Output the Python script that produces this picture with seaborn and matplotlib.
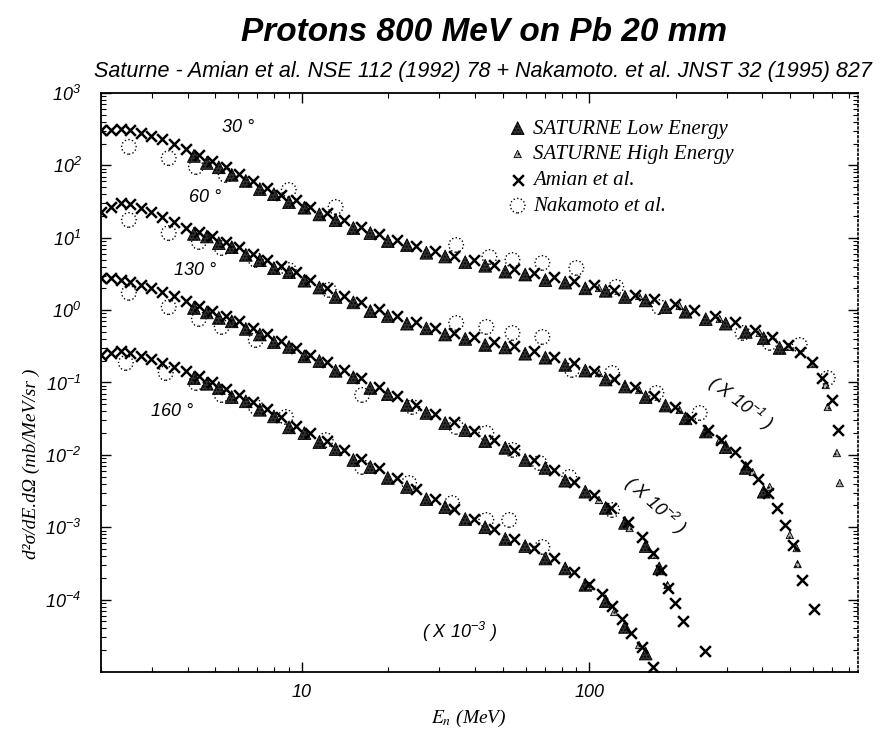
import numpy as np
import pandas as pd
import matplotlib
matplotlib.use("Agg")
import matplotlib.pyplot as plt
import seaborn as sns
from matplotlib.font_manager import FontProperties
from matplotlib.ticker import LogLocator, NullFormatter

sns.set_style("ticks")
plt.rcParams['font.family'] = ['Liberation Sans', 'DejaVu Sans']
plt.rcParams['text.color'] = 'black'
plt.rcParams['xtick.color'] = 'black'
plt.rcParams['ytick.color'] = 'black'
plt.rcParams['xtick.labelcolor'] = 'black'
plt.rcParams['ytick.labelcolor'] = 'black'
plt.rcParams['mathtext.fontset'] = 'custom'
plt.rcParams['mathtext.it'] = 'Liberation Sans:italic'
plt.rcParams['mathtext.rm'] = 'Liberation Sans:italic'
plt.rcParams['mathtext.default'] = 'it'

# ---------------- data (physical values, mb/MeV/sr) ----------------
angles = ["30", "60", "130", "160"]
scales = [1.0, 1e-1, 1e-2, 1e-3]

# Amian et al. (x)
amian30_E = [2.00, 2.16, 2.34, 2.53, 2.75, 2.98, 3.25, 3.58, 3.94, 4.38, 4.86, 5.43, 6.03, 6.74, 7.55, 8.45,
             9.53, 10.7, 12.2, 14.0, 16.1, 18.5, 21.4, 25.0, 29.0, 33.9, 39.7, 46.7, 54.8, 64.3, 75.5, 88.7,
             104, 122, 144, 168, 198, 232, 273, 320, 376, 431, 490, 539, 594, 643, 697, 731]
amian30_y = [308, 308, 318, 308, 280, 255, 231, 197, 168, 139, 115, 95, 76, 60.8, 48.7, 39.0,
             33.2, 26.6, 22.0, 17.6, 14.1, 11.3, 9.31, 7.69, 6.56, 5.60, 4.93, 4.21, 3.70, 3.26, 2.87, 2.52,
             2.22, 1.90, 1.62, 1.42, 1.22, 1.00, 0.83, 0.686, 0.531, 0.425, 0.330, 0.264, 0.192, 0.115, 0.057, 0.022]

amian60_E = [2.00, 2.16, 2.34, 2.53, 2.75, 2.98, 3.25, 3.58, 3.94, 4.38, 4.86, 5.43, 6.03, 6.74, 7.55, 8.45,
             9.53, 10.7, 12.2, 14.0, 16.1, 18.5, 21.4, 25.0, 29.0, 33.9, 39.7, 46.7, 54.8, 64.3, 75.5, 88.7,
             104, 122, 144, 168, 198, 226, 258, 288, 320, 352, 385, 417, 448, 478, 509, 548, 603]
amian60_y = [227, 266, 302, 292, 258, 227, 194, 165, 136, 120, 106, 87.3, 74.5, 59.6, 49.3, 40.7,
             33.7, 26.1, 20.2, 15.7, 12.9, 10.4, 8.30, 6.86, 5.66, 4.83, 4.25, 3.63, 3.19, 2.72, 2.25, 1.86,
             1.44, 1.12, 0.867, 0.650, 0.459, 0.323, 0.221, 0.160, 0.110, 0.0724, 0.0464, 0.0297, 0.0185,
             0.0107, 0.00569, 0.00187, 0.000742]

amian130_E = [2.00, 2.16, 2.34, 2.53, 2.75, 2.98, 3.25, 3.58, 3.94, 4.38, 4.86, 5.43, 6.03, 6.74, 7.55, 8.45,
              9.53, 10.7, 12.2, 14.0, 16.1, 18.5, 21.4, 25.0, 29.0, 33.9, 39.7, 46.7, 54.8, 64.3, 75.5, 88.7,
              104, 119, 136, 152, 167, 178, 187, 199, 211, 252]
amian130_y = [278, 278, 261, 245, 222, 202, 178, 157, 134, 114, 97.2, 83.0, 70.8, 56.6, 46.8, 37.4,
              30.0, 24.0, 19.2, 14.9, 11.5, 8.67, 6.50, 4.89, 3.67, 2.84, 2.14, 1.60, 1.17, 0.849, 0.618, 0.422,
              0.279, 0.185, 0.118, 0.0733, 0.0441, 0.0256, 0.0145, 0.00898, 0.00507, 0.00195]

amian160_E = [2.00, 2.16, 2.34, 2.53, 2.75, 2.98, 3.25, 3.58, 3.94, 4.38, 4.86, 5.43, 6.03, 6.74, 7.55, 8.45,
              9.53, 10.7, 12.2, 14.0, 16.1, 18.5, 21.4, 25.0, 29.0, 33.9, 39.7, 46.7, 54.8, 64.3, 75.5, 88.7,
              100, 111, 120, 130, 140, 153, 166]
amian160_y = [240, 256, 272, 256, 232, 211, 186, 164, 144, 123, 102, 81.3, 67.2, 53.8, 43.1, 33.4,
              25.1, 20.0, 15.6, 11.7, 8.77, 6.59, 4.79, 3.37, 2.45, 1.79, 1.30, 0.946, 0.689, 0.516, 0.376, 0.241,
              0.164, 0.120, 0.0817, 0.0540, 0.0346, 0.0221, 0.0117]

# SATURNE Low Energy (filled triangles)
le30_E = [4.21, 4.67, 5.14, 5.70, 6.38, 7.14, 7.99, 9.02, 10.2, 11.5, 13.1, 15.1, 17.3, 19.9, 23.2, 27.1, 31.5,
          37.0, 43.4, 51.0, 59.8, 70.3, 82.4, 96.8, 114, 133, 157, 184, 216, 254, 298, 350, 404, 459]
le30_y = [135, 108, 94, 74, 61, 47, 40, 31, 26, 21, 17.5, 13.6, 11.6, 9.0, 7.9, 6.2, 5.5,
          4.6, 4.1, 3.4, 3.1, 2.6, 2.4, 2.0, 1.85, 1.52, 1.36, 1.10, 0.95, 0.75, 0.65, 0.50, 0.41, 0.30]
le60_E = [4.21, 4.67, 5.14, 5.70, 6.38, 7.14, 7.99, 9.02, 10.2, 11.5, 13.1, 15.1, 17.3, 19.9, 23.2, 27.1, 31.5,
          37.0, 43.4, 51.0, 59.8, 70.3, 82.4, 96.8, 114, 133, 157, 184, 216, 254, 298, 350, 404]
le60_y = [113, 104, 84, 74, 58, 49, 38, 33.5, 25.5, 20.5, 15.2, 12.8, 9.7, 8.3, 6.5, 5.6, 4.6,
          4.0, 3.3, 3.05, 2.5, 2.2, 1.75, 1.46, 1.10, 0.88, 0.63, 0.48, 0.32, 0.21, 0.128, 0.066, 0.031]
le130_E = [4.21, 4.67, 5.14, 5.70, 6.38, 7.14, 7.99, 9.02, 10.2, 11.5, 13.1, 15.1, 17.3, 19.9, 23.2, 27.1, 31.5,
           37.0, 43.4, 51.0, 59.8, 70.3, 82.4, 96.8, 114, 133, 157, 175]
le130_y = [107, 93, 78, 70, 55, 46, 36, 31, 23, 19.8, 14.5, 11.8, 8.4, 6.9, 4.9, 3.8, 2.75,
           2.2, 1.55, 1.25, 0.85, 0.66, 0.44, 0.31, 0.185, 0.115, 0.055, 0.027]
le160_E = [4.21, 4.67, 5.14, 5.70, 6.38, 7.14, 7.99, 9.02, 10.2, 11.5, 13.1, 15.1, 17.3, 19.9, 23.2, 27.1, 31.5,
           37.0, 43.4, 51.0, 59.8, 70.3, 82.4, 96.8, 114, 133, 157]
le160_y = [115, 96, 84, 63, 55, 42, 34, 24, 20, 15, 12, 8.5, 6.8, 4.8, 3.6, 2.45, 1.9,
           1.30, 1.0, 0.69, 0.55, 0.37, 0.27, 0.16, 0.095, 0.042, 0.018]

# SATURNE High Energy (small triangles)
he30_E = [108, 149, 206, 284, 391, 495, 594, 664, 675, 726, 743]
he30_y = [2.02, 1.57, 1.14, 0.754, 0.483, 0.310, 0.180, 0.0923, 0.0459, 0.0106, 0.00408]
he60_E = [108, 149, 206, 284, 370, 424, 498, 526, 530]
he60_y = [1.35, 0.787, 0.417, 0.160, 0.0579, 0.0360, 0.00782, 0.00516, 0.00310]
he130_E = [108, 138, 168, 187]
he130_y = [0.238, 0.0976, 0.0414, 0.0159]
he160_E = [100, 122, 149]
he160_y = [0.154, 0.0675, 0.0236]

# Nakamoto et al. (dotted circles)
nak30_E = [2.50, 3.44, 4.28, 5.43, 9.0, 13.1, 34.4, 44.9, 54.0, 68.6, 90.1, 124, 175, 341, 424, 539, 675]
nak30_y = [180, 126, 95, 73.6, 45.7, 26.6, 7.94, 5.42, 4.93, 4.48, 3.82, 2.09, 1.10, 0.483, 0.352, 0.330, 0.115]
nak60_E = [2.50, 3.44, 4.38, 5.26, 6.91, 9.0, 12.4, 34.4, 43.8, 54.0, 68.6, 87.0, 120, 171, 242]
nak60_y = [176, 116, 87.3, 72.1, 49.3, 35.8, 19.0, 6.64, 5.85, 4.83, 4.25, 1.49, 1.35, 0.716, 0.379]
nak130_E = [2.50, 3.44, 4.38, 5.26, 6.91, 16.2, 24.2, 34.4, 43.8, 54.0, 67.0, 85.1, 120]
nak130_y = [173, 110, 75.4, 58.5, 38.6, 6.72, 4.59, 2.43, 2.00, 1.17, 0.773, 0.495, 0.173]
nak160_E = [2.44, 3.36, 4.28, 5.26, 6.91, 8.79, 12.1, 16.2, 23.6, 33.3, 43.8, 52.6, 68.6]
nak160_y = [186, 135, 98.5, 67.2, 45.9, 33.4, 16.0, 6.79, 4.08, 2.16, 1.26, 1.26, 0.533]

legend_labels = ["SATURNE Low Energy", "SATURNE High Energy", "Amian et al.", "Nakamoto et al."]
ytick_exps = [-4, -3, -2, -1, 0, 1, 2, 3]
xtick_vals = [10, 100]

# ---------------- assemble ----------------
series = {
    "amian": [(amian30_E, amian30_y), (amian60_E, amian60_y), (amian130_E, amian130_y), (amian160_E, amian160_y)],
    "le": [(le30_E, le30_y), (le60_E, le60_y), (le130_E, le130_y), (le160_E, le160_y)],
    "he": [(he30_E, he30_y), (he60_E, he60_y), (he130_E, he130_y), (he160_E, he160_y)],
    "nak": [(nak30_E, nak30_y), (nak60_E, nak60_y), (nak130_E, nak130_y), (nak160_E, nak160_y)],
}
rows = []
for src, lst in series.items():
    for ang, sc, (E, y) in zip(angles, scales, lst):
        for e, v in zip(E, y):
            rows.append({"src": src, "angle": ang, "E": e, "val": v * sc})
df = pd.DataFrame(rows)

# ---------------- figure ----------------
fig = plt.figure(figsize=(8.82, 7.32), dpi=100)
ax = fig.add_axes([0.1145, 0.0820, 0.8583, 0.7910])
ax.set_xscale('log')
ax.set_yscale('log')
ax.set_xlim(2.0, 860)
ax.set_ylim(1e-5, 1e3)

sns.scatterplot(data=df[df.src == "nak"], x="E", y="val", ax=ax, marker='o', s=110,
                color='none', edgecolor='black', linewidth=1.0, linestyle=':', legend=False, zorder=2)
h_nak = ax.collections[-1]
sns.scatterplot(data=df[df.src == "le"], x="E", y="val", ax=ax, marker='^', s=85,
                color='#333333', edgecolor='black', linewidth=0.6, hatch='.....', legend=False, zorder=3)
h_le = ax.collections[-1]
sns.scatterplot(data=df[df.src == "he"], x="E", y="val", ax=ax, marker='^', s=28,
                color='#b0b0b0', edgecolor='black', linewidth=0.6, hatch='....', legend=False, zorder=3)
h_he = ax.collections[-1]
sns.scatterplot(data=df[df.src == "amian"], x="E", y="val", ax=ax, marker='x', s=60,
                color='black', edgecolor='black', linewidth=1.8, legend=False, zorder=4)
h_am = ax.collections[-1]

# ticks
ax.set_yticks([10.0 ** k for k in ytick_exps])
ax.set_yticklabels([r'$10^{%d}$' % k for k in ytick_exps])
ax.yaxis.set_minor_locator(LogLocator(base=10, subs=np.arange(2, 10), numticks=20))
ax.yaxis.set_minor_formatter(NullFormatter())
ax.set_xticks(xtick_vals)
ax.set_xticklabels([str(v) for v in xtick_vals])
ax.xaxis.set_minor_locator(LogLocator(base=10, subs=np.arange(2, 10), numticks=20))
ax.xaxis.set_minor_formatter(NullFormatter())
ax.tick_params(which='both', direction='in', top=True, right=True, color='black')
ax.tick_params(which='major', length=7, width=1.0, labelsize=13, pad=9)
ax.tick_params(which='minor', length=3.5, width=0.8)
ax.tick_params(axis='y', which='major', pad=14)
for lab in ax.get_xticklabels() + ax.get_yticklabels():
    lab.set_fontstyle('italic')
for side in ['left', 'bottom', 'top']:
    ax.spines[side].set_linewidth(1.3)
    ax.spines[side].set_color('black')
ax.spines['right'].set_linestyle(':')
ax.spines['right'].set_linewidth(1.2)
ax.spines['right'].set_color('black')
ax.set_xlabel('')
ax.set_ylabel('')

# legend
leg = ax.legend(handles=[h_le, h_he, h_am, h_nak], labels=legend_labels, loc='upper left',
                bbox_to_anchor=(0.538, 0.955), frameon=False,
                prop=FontProperties(family='Liberation Serif', style='italic', size=15),
                handlelength=0.9, handletextpad=0.3, labelspacing=0.3, borderpad=0,
                borderaxespad=0, scatterpoints=1)

# annotations
afont = dict(fontsize=13, fontstyle='italic', transform=ax.transAxes, ha='center', va='center', color='black')
ax.text(0.181, 0.940, "30 °", **afont)
ax.text(0.137, 0.819, "60 °", **afont)
ax.text(0.124, 0.694, "130 °", **afont)
ax.text(0.094, 0.449, "160 °", **afont)
ax.text(0.844, 0.465, r"( X 10$^{-1}$ )", rotation=-37, **afont)
ax.text(0.732, 0.288, r"( X 10$^{-2}$ )", rotation=-42, **afont)
ax.text(0.474, 0.069, r"( X 10$^{-3}$ )", **afont)

# titles and axis labels
fig.text(0.549, 0.956, "Protons 800 MeV on Pb 20 mm", ha='center', va='center', color='black',
         fontsize=24, fontweight='bold', fontstyle='italic', family='Liberation Sans')
fig.text(0.548, 0.903, "Saturne - Amian et al. NSE 112 (1992) 78 + Nakamoto. et al. JNST 32 (1995) 827",
         ha='center', va='center', fontsize=15.5, fontstyle='italic', family='Liberation Sans', color='black')
fig.text(0.036, 0.366, "d²σ/dE.dΩ (mb/MeV/sr )", rotation=90, ha='center', va='center', color='black',
         fontsize=14, fontstyle='italic', family='Liberation Serif')
fig.text(0.532, 0.019, r"$E_n$ (MeV)", ha='center', va='center', fontsize=14, color='black',
         fontstyle='italic', family='Liberation Serif', math_fontfamily='stix')

fig.savefig("out.png", dpi=100)
